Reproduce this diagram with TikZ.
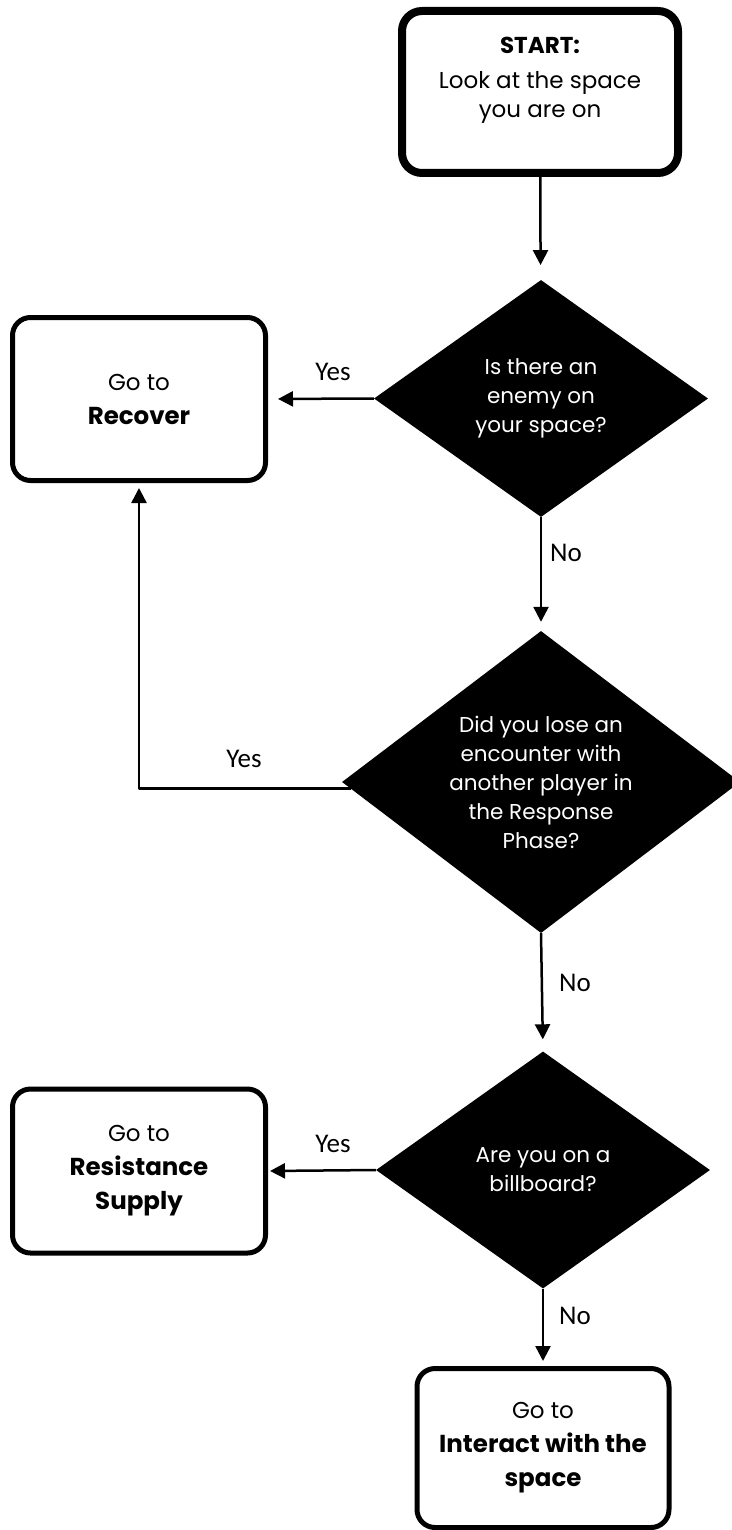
\documentclass[tikz,border=0pt]{standalone}
\usepackage{fontspec}
\newfontfamily\lblfont{Carlito}
\newfontfamily\gothic{Poppins}
\newcommand\goname[1]{{\fontsize{24.5}{34}\selectfont\bfseries #1}}
\usetikzlibrary{shapes.geometric,arrows.meta}
\begin{document}
\begin{tikzpicture}[x=1pt, y=-1pt, line join=round, >={Triangle[length=15pt,width=15pt]},
	box/.style={draw, rounded corners=18pt, line width=5pt, align=center, inner sep=0pt, minimum width=253pt, minimum height=163pt, font=\gothic\fontsize{23}{34}\selectfont},
	ask/.style={diamond, fill=black, text=white, align=center, inner sep=0pt, font=\gothic\fontsize{21.5}{29}\selectfont},
	lbl/.style={font=\lblfont\fontsize{27}{30}\selectfont},
	link/.style={->, line width=2.5pt, shorten >=#1},
	link/.default=0pt]
				\def \dw{334pt}
				\def \dh{237pt}
				\useasboundingbox (0,0) rectangle (731,1530);
				% boxes
				\node[box, line width=8pt, rounded corners=20pt, minimum width=276pt, minimum height=162pt, font=\gothic\fontsize{23}{29}\selectfont] (start) at (540,92) {\textbf{START:}\\[6pt] Look at the space\\ you are on\\ \mbox{}};
				\node[box] (recover) at (139,399) {Go to\\ \goname{Recover}};
				\node[box, minimum height=164pt] (supply) at (139,1171) {Go to\\ \goname{Resistance}\\ \goname{Supply}};
				\node[box, minimum width=252pt, minimum height=159pt] (interact) at (543,1448) {Go to\\ \goname{Interact with the}\\ \goname{space}};
				% questions
				\node[ask, shape aspect=1.41, minimum width=\dw, minimum height=\dh] (enemy) at (541,398.5) {Is there an\\ enemy on\\ your space?};
				\node[ask, shape aspect=1.32, minimum width=398pt, minimum height=302pt] (lose) at (541,782) {Did you lose an\\ encounter with\\ another player in\\ the Response\\ Phase?};
				\node[ask, shape aspect=1.41, minimum width=\dw, minimum height=\dh] (board) at (543,1170) {Are you on a\\ billboard?};
				% links
				\draw[link=15pt] (start) -- (enemy);
				\draw[link=10pt] (enemy.west) -- (recover.east);
				\draw[link=9pt] (enemy.south) -- (lose.north);
				\draw[link=5pt] (lose.182) -| (recover.south);
				\draw[link=12pt] (lose.south) -- (board.north);
				\draw[link=2pt] (board.west) -- (supply.east);
				\draw[link=5pt] (board.south) -- (interact.north);
				\node[lbl] (yes1) at (333,372) {Yes};
				\node[lbl] (no1) at (566,553) {No};
				\node[lbl] (yes2) at (244,759) {Yes};
				\node[lbl] (no2) at (575,983) {No};
				\node[lbl] (yes3) at (333,1144) {Yes};
				\node[lbl] (no3) at (575,1316) {No};
\end{tikzpicture}
\end{document}
